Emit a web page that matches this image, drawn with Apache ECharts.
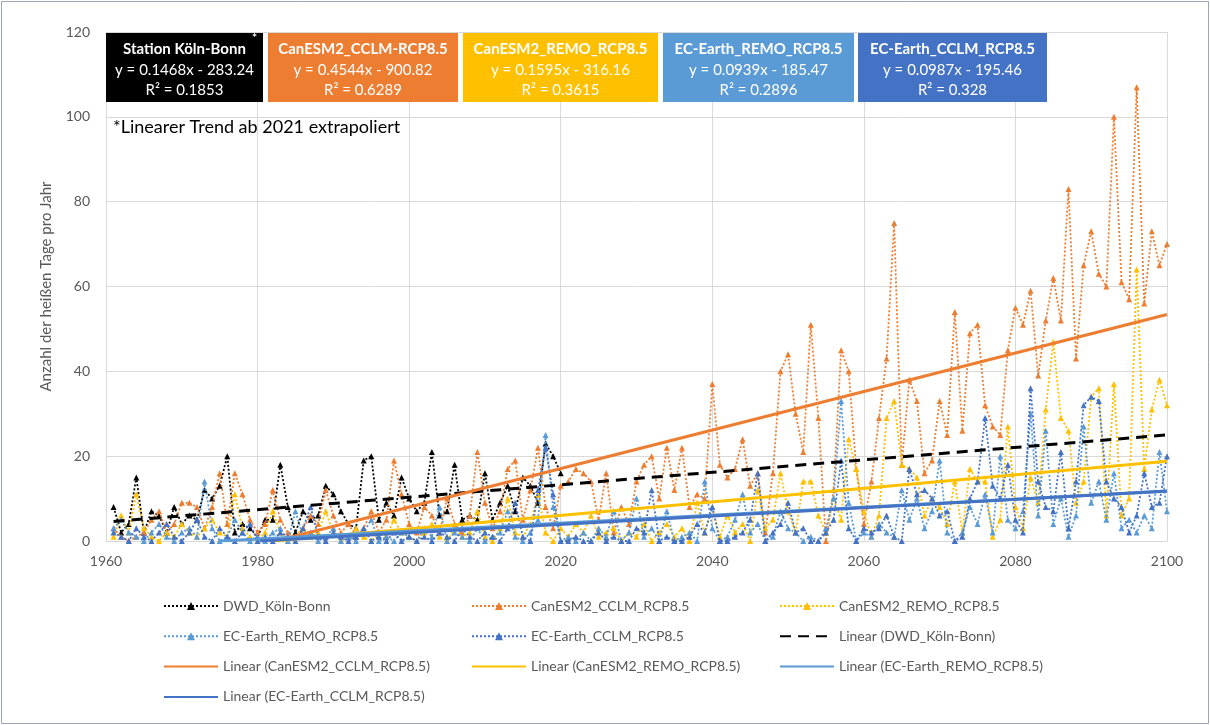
<!DOCTYPE html>
<html><head><meta charset="utf-8">
<script src="https://cdn.jsdelivr.net/npm/echarts@6/dist/echarts.min.js"></script>
<style>html,body{margin:0;padding:0;background:#fff}#c{width:1210px;height:725px}</style>
</head><body><div id="c"></div>
<script>
// ---------- DATA ----------
const firstYear = 1961;
const seriesNames = ['DWD_Köln-Bonn','CanESM2_CCLM_RCP8.5','CanESM2_REMO_RCP8.5','EC-Earth_REMO_RCP8.5','EC-Earth_CCLM_RCP8.5'];
const trendNames = ['Linear (DWD_Köln-Bonn)','Linear (CanESM2_CCLM_RCP8.5)','Linear (CanESM2_REMO_RCP8.5)','Linear (EC-Earth_REMO_RCP8.5)','Linear (EC-Earth_CCLM_RCP8.5)'];
// DWD station 1961-2020
const dwd = [
 8,2,4,15,2,7,6,2,8,4,
 6,5,12,10,13,20,2,4,3,1,
 5,5,18,8,2,7,5,6,13,11,
 7,4,3,19,20,5,9,6,15,10,
 7,9,21,6,7,18,5,6,5,16,
 5,9,13,7,15,13,9,23,20,16];
// models 1961-2100
const canCCLM = [
 3,1,0,1,2,5,7,2,4,9,
 9,8,3,8,16,4,16,11,5,2,
 4,12,5,2,1,3,6,4,12,6,
 2,4,1,3,7,2,5,19,11,4,
 2,8,6,2,10,4,2,6,21,9,
 3,7,17,19,5,12,22,8,3,13,
 14,17,16,14,5,16,2,8,4,14,
 18,20,10,22,12,22,8,11,10,37,
 18,15,17,24,13,16,2,16,40,44,
 30,21,51,29,0,12,45,40,17,4,
 14,29,43,75,18,38,33,16,19,33,
 25,54,26,49,51,32,27,25,45,55,
 51,59,39,52,62,52,83,43,65,73,
 63,60,100,61,57,107,56,73,65,70];
const canREMO = [
 1,6,2,11,3,1,0,2,1,4,
 2,1,3,5,2,1,11,3,1,0,
 2,7,2,0,1,3,1,2,7,2,
 0,1,3,1,0,2,1,5,2,1,
 0,2,4,1,0,3,1,2,7,1,
 0,3,10,2,1,4,11,2,0,3,
 1,4,2,6,1,2,3,0,2,1,
 4,0,2,4,1,3,0,9,2,8,
 1,6,2,4,0,12,3,5,16,7,
 2,14,14,6,2,10,5,24,17,7,
 1,6,29,33,18,17,15,6,10,8,
 4,14,2,17,14,14,1,5,27,8,
 3,15,9,31,47,29,26,9,14,34,
 36,6,37,6,10,64,17,31,38,32];
const ecREMO = [
 3,5,2,1,0,2,4,1,0,2,
 3,1,14,3,0,1,5,2,0,1,
 0,2,3,0,7,1,2,0,1,3,
 0,1,0,2,5,0,1,0,2,1,
 0,3,1,8,0,2,1,0,3,0,
 1,2,7,1,0,2,5,25,8,0,
 1,0,2,0,3,1,7,0,2,10,
 1,3,0,7,0,1,2,0,14,3,
 0,1,5,11,2,4,0,1,7,3,
 2,0,1,0,3,10,33,9,0,2,
 1,4,2,1,12,5,10,3,7,19,
 2,0,2,8,4,11,2,20,5,3,
 7,30,6,26,4,10,1,6,27,9,
 14,5,16,3,5,2,6,3,21,7];
const ecCCLM = [
 2,1,0,3,1,0,2,4,1,0,
 2,5,1,0,3,1,0,2,4,0,
 1,0,2,1,0,3,8,1,0,2,
 1,0,1,3,0,1,0,2,0,1,
 0,1,0,2,1,0,3,1,0,2,
 1,0,3,9,1,0,12,22,11,0,
 0,1,0,0,2,0,1,0,0,3,
 2,12,0,1,0,0,1,4,2,8,
 0,0,1,2,5,16,0,2,4,9,
 2,3,0,0,2,5,19,3,0,3,
 2,3,6,1,0,17,11,12,10,6,
 7,0,1,10,14,29,13,10,18,5,
 2,36,14,8,7,21,3,14,32,34,
 33,14,10,8,2,6,16,8,9,20];
// trend line end points [year, value]
const trendDWD   = [[1961, 4.6], [2100, 25.0]];
const trendCCLM  = [[1982.4, 0], [2100, 53.4]];
const trendREMO  = [[1982.2, 0], [2100, 18.8]];
const trendECREMO= [[1975.2, 0], [2100, 11.7]];
const trendECCCLM= [[1980.3, 0], [2100, 11.8]];
// annotation boxes
const boxTitles = ['Station Köln-Bonn','CanESM2_CCLM-RCP8.5','CanESM2_REMO_RCP8.5','EC-Earth_REMO_RCP8.5','EC-Earth_CCLM_RCP8.5'];
const boxEquations = ['y = 0.1468x - 283.24','y = 0.4544x - 900.82','y = 0.1595x - 316.16','y = 0.0939x - 185.47','y = 0.0987x - 195.46'];
const boxR2 = ['R² = 0.1853','R² = 0.6289','R² = 0.3615','R² = 0.2896','R² = 0.328'];
const footnote = '*Linearer Trend ab 2021 extrapoliert';
const yAxisTitle = 'Anzahl der heißen Tage pro Jahr';
const xMin = 1960, xMax = 2100, xStep = 20;
const yMin = 0, yMax = 120, yStep = 20;

// ---------- STYLE / LAYOUT ----------
const colors = ['#000000','#ED7D31','#FFC000','#5B9BD5','#4472C4'];
const FONT = 'Lato';
const toPairs = arr => arr.map((v, i) => [firstYear + i, v]);
const dataSets = [dwd, canCCLM, canREMO, ecREMO, ecCCLM];
const trends = [trendDWD, trendCCLM, trendREMO, trendECREMO, trendECCCLM];

const series = [];
dataSets.forEach((d, i) => {
  series.push({
    name: seriesNames[i], type: 'line', data: toPairs(d),
    symbol: 'triangle', symbolSize: 6, showSymbol: true,
    itemStyle: {color: colors[i]},
    lineStyle: {color: colors[i], width: 1.8, type: [2, 2]},
    z: 2 + i, animation: false
  });
});
trends.forEach((t, i) => {
  series.push({
    name: trendNames[i], type: 'line', data: t,
    symbol: 'none', showSymbol: false,
    itemStyle: {color: colors[i]},
    lineStyle: {color: colors[i], width: 3, type: i === 0 ? [11, 7] : 'solid'},
    z: 10 + i, animation: false
  });
});

const boxes = [[106,157],[268,190],[463,195],[663,191],[858,189]];
const graphics = [
  {type:'rect', shape:{x:1.5,y:1.5,width:1207,height:722}, style:{fill:'none', stroke:'#9aa5b8', lineWidth:1}, silent:true}
];
boxes.forEach((b, i) => {
  const cx = b[0] + b[1] / 2;
  graphics.push({type:'rect', shape:{x:b[0], y:33, width:b[1], height:69}, style:{fill:colors[i]}, z:100});
  graphics.push({type:'text', x:cx, y:49, z:101, style:{text:boxTitles[i], fill:'#fff', font:'bold 15px ' + FONT, align:'center', verticalAlign:'middle'}});
  graphics.push({type:'text', x:cx, y:70, z:101, style:{text:boxEquations[i], fill:'#fff', font:'15px ' + FONT, align:'center', verticalAlign:'middle'}});
  graphics.push({type:'text', x:cx, y:90, z:101, style:{text:boxR2[i], fill:'#fff', font:'15px ' + FONT, align:'center', verticalAlign:'middle'}});
});
graphics.push({type:'text', x:252, y:38, z:102, style:{text:'*', fill:'#fff', font:'bold 12px ' + FONT, align:'left', verticalAlign:'middle'}});
graphics.push({type:'text', x:113, y:127, z:101, style:{text:footnote, fill:'#000', font:'18px ' + FONT, align:'left', verticalAlign:'middle'}});

const legendBase = {
  orient:'vertical', top:592, itemWidth:54, itemHeight:10, itemGap:12.3,
  selectedMode:false,
  textStyle:{color:'#595959', fontSize:14, fontFamily:FONT, lineHeight:18}
};
const lineOnly = name => ({name: name, itemStyle: {opacity: 0}});
const chart = echarts.init(document.getElementById('c'));
chart.setOption({
  animation:false,
  textStyle:{fontFamily:FONT},
  grid:{left:106, right:43, top:32, bottom:184},
  xAxis:{type:'value', min:xMin, max:xMax, interval:xStep,
    axisLine:{lineStyle:{color:'#d9d9d9', width:1}}, axisTick:{show:false},
    axisLabel:{color:'#595959', fontSize:14, margin:13, formatter: v => String(v)},
    splitLine:{show:true, lineStyle:{color:'#d9d9d9'}}},
  yAxis:{type:'value', min:yMin, max:yMax, interval:yStep,
    axisLine:{show:false}, axisTick:{show:false},
    axisLabel:{color:'#595959', fontSize:14, margin:16},
    splitLine:{lineStyle:{color:'#d9d9d9'}},
    name:yAxisTitle, nameLocation:'middle', nameGap:52,
    nameTextStyle:{color:'#595959', fontSize:15}},
  legend:[
    Object.assign({}, legendBase, {left:158, data:[seriesNames[0], seriesNames[3], lineOnly(trendNames[1]), lineOnly(trendNames[4])]}),
    Object.assign({}, legendBase, {left:466, data:[seriesNames[1], seriesNames[4], lineOnly(trendNames[2])]}),
    Object.assign({}, legendBase, {left:774, data:[seriesNames[2], lineOnly(trendNames[0]), lineOnly(trendNames[3])]})
  ],
  graphic: graphics,
  series: series
});
</script></body></html>
